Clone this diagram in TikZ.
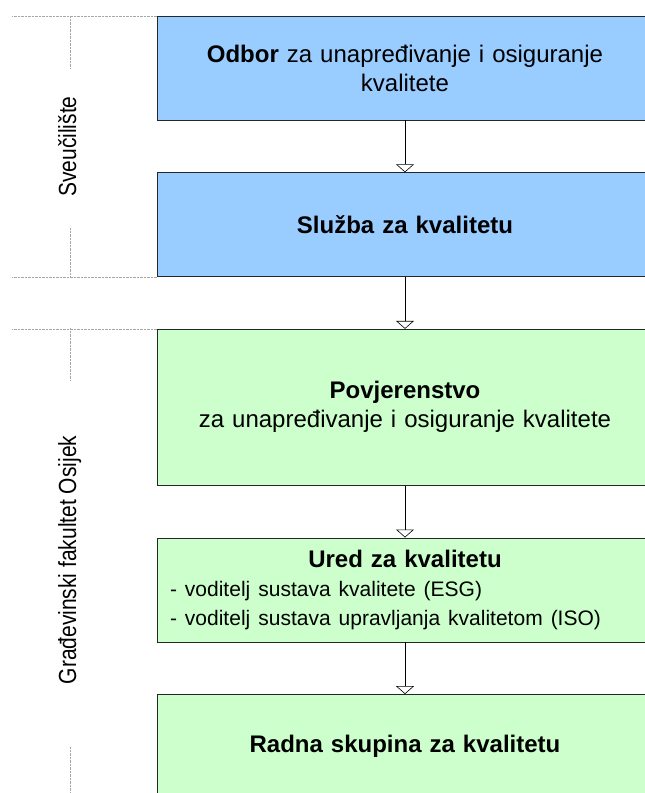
\documentclass[tikz,border=0pt]{standalone}
\usepackage{fontspec}
\setmainfont{Liberation Sans}
\usetikzlibrary{positioning,arrows.meta}
\definecolor{uniblue}{HTML}{99CCFF}
\definecolor{facgreen}{HTML}{CCFFCC}
\newcommand{\tallside}[1]{\scalebox{1}[1.18]{#1}}
\begin{document}
\begin{tikzpicture}[
   x=1pt,y=1pt,
   node distance=52pt,
   box/.style={draw=black!85,semithick,minimum width=496pt,minimum height=104pt,inner xsep=13pt,text width=470pt,align=center,font=\fontsize{24}{29}\selectfont},
   uni/.style={box,fill=uniblue},
   fac/.style={box,fill=facgreen},
   to/.style={-{Triangle[open,width=18pt,length=8pt]},semithick},
   bracket/.style={black!35,densely dotted,thin},
   side/.style={rotate=90,anchor=base,font=\fontsize{21}{25}\selectfont}]
\useasboundingbox (0,0) rectangle (645,-793);
\clip (0,0) rectangle (645,-793);
\node[uni] (odbor) at (405,-68) {\textbf{Odbor} za unapređivanje i osiguranje\\kvalitete};
\node[uni,below=of odbor] (sluzba) {\textbf{Služba za kvalitetu}};
\node[fac,below=of sluzba,minimum height=156pt] (povj) {\textbf{Povjerenstvo}\\za unapređivanje i osiguranje kvalitete};
\node[fac,below=of povj,align=left] (ured) {\makebox[470pt]{\bfseries Ured za kvalitetu}\\
   \fontsize{21}{29}\selectfont - voditelj sustava kvalitete (ESG)\\
   - voditelj sustava upravljanja kvalitetom (ISO)};
\node[fac,below=of ured] (radna) {\textbf{Radna skupina za kvalitetu}};
% side labels
\node[side] (sveuc) at (76,-146.5) {\tallside{Sveučilište}};
\node[side] (gfos) at (76,-560) {\tallside{Građevinski fakultet Osijek}};
\draw[bracket] (odbor.north west) -- ++(-145,0);
\draw[bracket] (sluzba.south west) -- ++(-145,0);
\draw[bracket] (povj.north west) -- ++(-145,0);
\draw[bracket] (70,-16) -- (70,-68) (70,-228) -- (70,-276);
\draw[bracket] (70,-328) -- (70,-380) (70,-747) -- (70,-800);
% arrows
\draw[to] (odbor) -- (sluzba);
\draw[to] (sluzba) -- (povj);
\draw[to] (povj) -- (ured);
\draw[to] (ured) -- (radna);
\end{tikzpicture}
\end{document}
